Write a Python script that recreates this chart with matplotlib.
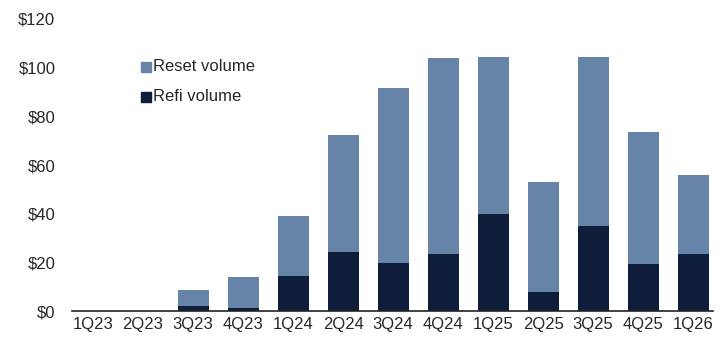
import matplotlib.pyplot as plt
import numpy as np

# Quarterly CLO volumes ($bn)
quarters = ["1Q23", "2Q23", "3Q23", "4Q23", "1Q24", "2Q24", "3Q24",
            "4Q24", "1Q25", "2Q25", "3Q25", "4Q25", "1Q26"]
refi = [0, 0, 2.2, 1.6, 14.5, 24.5, 20, 23.7, 40, 8, 35, 19.5, 23.5]
reset = [0, 0, 6.6, 12.6, 24.7, 48, 71.5, 80.3, 64.2, 45.3, 69.5, 54.3, 32.5]
yticks = [0, 20, 40, 60, 80, 100, 120]

reset_color = "#6584a8"
refi_color = "#0e1e3a"
text_color = "#262626"

plt.rcParams["font.family"] = ["Liberation Sans", "DejaVu Sans"]

fig = plt.figure(figsize=(7.27, 3.37), dpi=100)
ax = fig.add_axes([0.099, 0.0757, 0.882, 0.868])

x = np.arange(len(quarters))
ax.bar(x, refi, width=0.62, color=refi_color, zorder=2)
ax.bar(x, reset, width=0.62, bottom=refi, color=reset_color, zorder=2)

ax.set_xlim(-0.42, 12.4)
ax.set_ylim(0, 120)
ax.set_yticks(yticks)
ax.set_yticklabels([f"${v}" for v in yticks])
ax.set_xticks(x)
ax.set_xticklabels(quarters)

for s in ["top", "right", "left"]:
    ax.spines[s].set_visible(False)
ax.spines["bottom"].set_color("#222222")
ax.spines["bottom"].set_linewidth(1.2)
ax.tick_params(axis="both", length=0, labelsize=12, colors=text_color)
ax.tick_params(axis="y", pad=12)
ax.tick_params(axis="x", pad=4)

# legend entries drawn as square markers with labels
ax.scatter([1.07], [100.5], marker="s", s=55, color=reset_color, clip_on=False)
ax.text(1.2, 100.5, "Reset volume", va="center", fontsize=12, color=text_color)
ax.scatter([1.07], [88], marker="s", s=55, color=refi_color, clip_on=False)
ax.text(1.2, 88, "Refi volume", va="center", fontsize=12, color=text_color)

fig.savefig("out.png", dpi=100)
